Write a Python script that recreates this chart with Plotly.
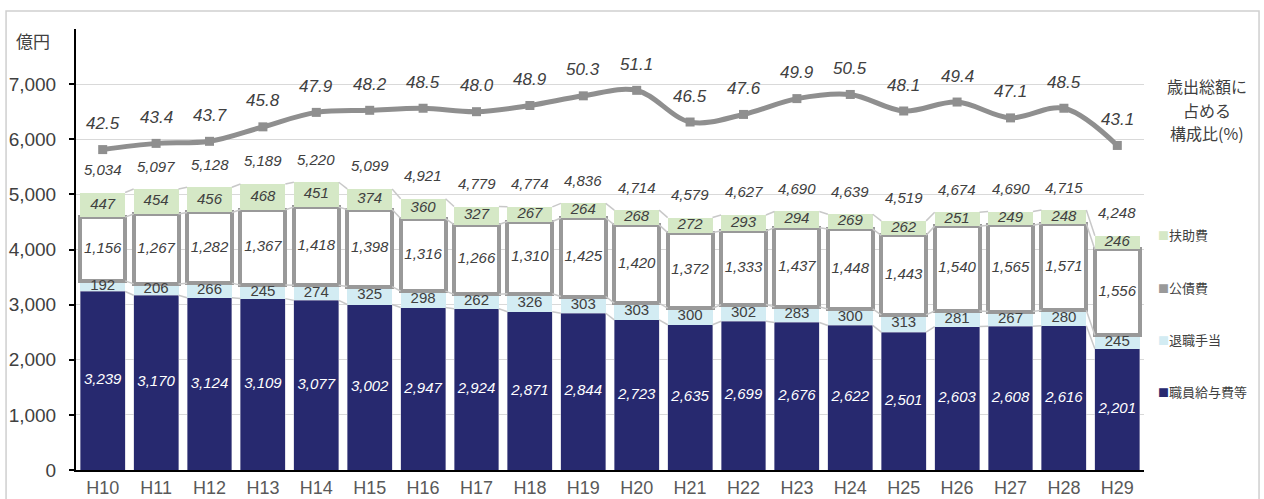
import plotly.graph_objects as go

# ---- data ----
categories = ["H10", "H11", "H12", "H13", "H14", "H15", "H16", "H17", "H18", "H19",
              "H20", "H21", "H22", "H23", "H24", "H25", "H26", "H27", "H28", "H29"]
salary = [3239, 3170, 3124, 3109, 3077, 3002, 2947, 2924, 2871, 2844,
          2723, 2635, 2699, 2676, 2622, 2501, 2603, 2608, 2616, 2201]
retire = [192, 206, 266, 245, 274, 325, 298, 262, 326, 303,
          303, 300, 302, 283, 300, 313, 281, 267, 280, 245]
debt = [1156, 1267, 1282, 1367, 1418, 1398, 1316, 1266, 1310, 1425,
        1420, 1372, 1333, 1437, 1448, 1443, 1540, 1565, 1571, 1556]
aid = [447, 454, 456, 468, 451, 374, 360, 327, 267, 264,
       268, 272, 293, 294, 269, 262, 251, 249, 248, 246]
totals = [5034, 5097, 5128, 5189, 5220, 5099, 4921, 4779, 4774, 4836,
          4714, 4579, 4627, 4690, 4639, 4519, 4674, 4690, 4715, 4248]
ratio = [42.5, 43.4, 43.7, 45.8, 47.9, 48.2, 48.5, 48.0, 48.9, 50.3,
         51.1, 46.5, 47.6, 49.9, 50.5, 48.1, 49.4, 47.1, 48.5, 43.1]
y_ticks = [0, 1000, 2000, 3000, 4000, 5000, 6000, 7000]
title_lines = ["歳出総額に", "占める", "構成比(%)"]

# ---- styles ----
NAVY = "#27296f"
BLUE = "#d3ecf3"
GREEN = "#d5e8c6"
GRAY = "#999999"
LINEGRAY = "#8f8f8f"
TXT = "#404040"
FONT = "Liberation Sans, Arial, sans-serif"
JFONT = "Noto Sans CJK JP, sans-serif"
W = 0.84

x = list(range(len(categories)))
fig = go.Figure()

series = [
    ("職員給与費等", salary, dict(color=NAVY, line=dict(color="#c8c8d8", width=0.5))),
    ("退職手当", retire, dict(color=BLUE, line=dict(width=0))),
    ("公債費", debt, dict(color="white", line=dict(color=GRAY, width=4))),
    ("扶助費", aid, dict(color=GREEN, line=dict(width=0))),
]
for name, vals, mk in series:
    fig.add_trace(go.Bar(x=x, y=vals, name=name, width=W, marker=mk,
                         showlegend=False, hoverinfo="skip"))

# cumulative levels
levels = []
run = [0] * len(x)
for _, vals, _ in series:
    run = [a + b for a, b in zip(run, vals)]
    levels.append(run)

# series lines between bars
sx, sy = [], []
for lev in levels:
    for i in range(len(x) - 1):
        sx += [x[i] + W / 2, x[i + 1] - W / 2, None]
        sy += [lev[i], lev[i + 1], None]
fig.add_trace(go.Scatter(x=sx, y=sy, mode="lines", line=dict(color="#c8c8c8", width=1.5),
                         showlegend=False, hoverinfo="skip"))

# segment labels
bottoms = [[0] * len(x)] + levels[:-1]
label_styles = [
    (True, "white"),
    (False, TXT),
    (True, TXT),
    (True, TXT),
]
for (name, vals, _), bot, (ital, col) in zip(series, bottoms, label_styles):
    mids = [b + v / 2 for b, v in zip(bot, vals)]
    txt = [(f"<i>{v:,}</i>" if ital else f"{v:,}") for v in vals]
    fig.add_trace(go.Scatter(x=x, y=mids, mode="text", text=txt,
                             textfont=dict(family=FONT, size=15, color=col),
                             showlegend=False, hoverinfo="skip"))

# total labels
for xi, t in zip(x, totals):
    fig.add_annotation(x=xi, y=t, yshift=23, text=f"<i>{t:,}</i>", showarrow=False,
                       font=dict(family=FONT, size=15, color=TXT), yanchor="middle")

# ratio line
fig.add_trace(go.Scatter(x=x, y=ratio, yaxis="y2", mode="lines+markers",
                         line=dict(color=LINEGRAY, width=5, shape="spline", smoothing=1),
                         marker=dict(symbol="square", size=9, color=LINEGRAY),
                         showlegend=False, hoverinfo="skip"))
for xi, r in zip(x, ratio):
    fig.add_annotation(x=xi, y=r, yref="y2", yshift=26, text=f"<i>{r:.1f}</i>",
                       showarrow=False, font=dict(family=FONT, size=17, color=TXT),
                       yanchor="middle")

# unit label and right-side title
fig.add_annotation(xref="paper", yref="paper", x=-0.040, y=0.975, text="億円",
                   xanchor="center", yanchor="middle",
                   showarrow=False, font=dict(family=JFONT, size=17, color=TXT))
for k, line in enumerate(title_lines):
    fig.add_annotation(xref="paper", yref="paper", x=1.059, y=0.870 - k * 0.053,
                       text=line, showarrow=False, xanchor="center", yanchor="middle",
                       font=dict(family=JFONT, size=16, color=TXT))

# legend as annotations
legend_items = [
    ("扶助費", GREEN, 0.535),
    ("公債費", GRAY, 0.413),
    ("退職手当", BLUE, 0.297),
    ("職員給与費等", NAVY, 0.179),
]
for name, col, yp in legend_items:
    fig.add_annotation(xref="paper", yref="paper", x=1.011, y=yp, xanchor="left",
                       text=f"<span style='font-size:11px;color:{col}'>■</span>{name}",
                       showarrow=False, font=dict(family=JFONT, size=13, color=TXT),
                       yanchor="middle")

# outer border
fig.add_shape(type="rect", xref="paper", yref="paper", x0=-0.0655, x1=1.1077,
              y0=-0.1, y1=1.0408, line=dict(color="#cfcfcf", width=1.5))

fig.update_layout(
    width=1264, height=499,
    margin=dict(l=76, r=120, t=29, b=29, autoexpand=False),
    paper_bgcolor="white", plot_bgcolor="white",
    barmode="stack", showlegend=False,
    xaxis=dict(tickmode="array", tickvals=x, ticktext=categories, range=[-0.5, len(x) - 0.5],
               showline=True, linecolor="black", linewidth=2, ticks="", showgrid=False,
               tickfont=dict(family=FONT, size=18, color="#595959"), zeroline=False,
               automargin=False),
    yaxis=dict(range=[0, 8000], tickmode="array", tickvals=y_ticks,
               ticktext=[f"{v:,}" for v in y_ticks],
               showline=True, linecolor="black", linewidth=2, ticks="outside", ticklen=5,
               tickcolor="black", tickwidth=2, showgrid=True, gridcolor="#d9d9d9", gridwidth=1,
               zeroline=False, ticklabelstandoff=9, automargin=False,
               tickfont=dict(family=FONT, size=19, color=TXT)),
    yaxis2=dict(range=[-4, 60], overlaying="y", visible=False, showgrid=False,
                automargin=False),
)

fig.write_html("out.html", config={"displayModeBar": False},
               post_script="document.body.style.margin='0';document.body.style.overflow='hidden';")
